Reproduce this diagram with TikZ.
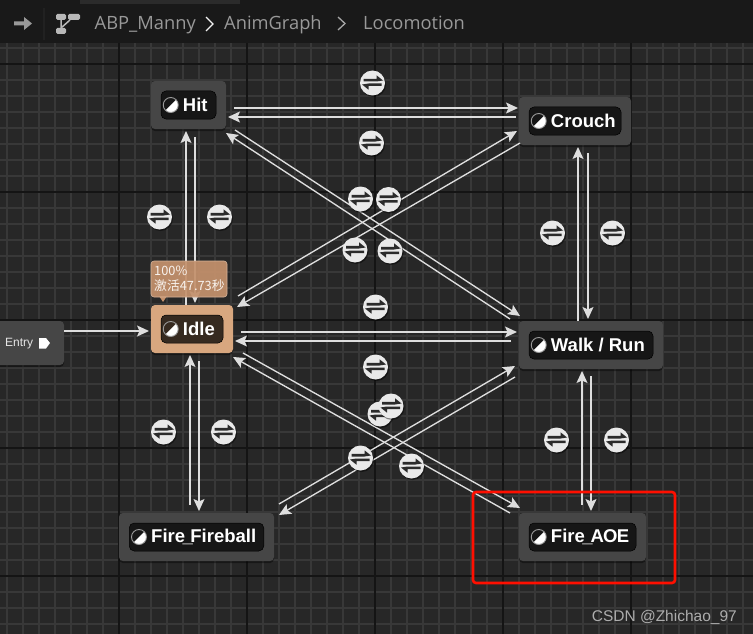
\documentclass[tikz,border=0pt]{standalone}
\usepackage{fontspec}
\setmainfont{Liberation Sans}
\newfontfamily\uifont{Open Sans}
\newfontfamily\cjkui{Noto Sans CJK SC}
\usetikzlibrary{arrows.meta,shadows,calc}
\definecolor{bgc}{HTML}{272727}
\definecolor{minorc}{HTML}{383838}
\definecolor{majorc}{HTML}{141414}
\definecolor{boxc}{HTML}{464646}
\definecolor{pillc}{HTML}{161616}
\definecolor{idlec}{HTML}{D8A77F}
\definecolor{tipc}{HTML}{C4916C}
\definecolor{flowc}{HTML}{DEDEDE}
\definecolor{hdrc}{HTML}{191919}
\definecolor{xferc}{HTML}{E9E9E9}
\definecolor{glyphc}{HTML}{2B2B2B}
\tikzset{
  statebox/.style={rounded corners=4pt,fill=boxc,draw=none,inner sep=0pt,minimum height=48pt,
    drop shadow={shadow xshift=0pt,shadow yshift=-2pt,opacity=.4,fill=black}},
  idlebox/.style={statebox,fill=idlec},
  pill/.style={rounded corners=5pt,fill=pillc,draw=black,line width=.5pt,inner sep=0pt,minimum height=28pt},
  idlepill/.style={pill,fill=black!75!idlec},
  statetext/.style={text=white,font=\fontsize{18.5}{20}\selectfont\bfseries,inner sep=0pt,anchor=west},
  halficon/.style={circle,minimum size=15pt,inner sep=0pt,draw=white!60!black,line width=.9pt,
    path picture={\fill[white] (path picture bounding box.north east) -- (path picture bounding box.south east) -- (path picture bounding box.south west) -- cycle;}},
  flow/.style={draw=flowc,line width=1.35pt,-{Stealth[length=12pt,width=11pt,inset=2.5pt]}},
  xfer/.style={circle,minimum size=25pt,inner sep=0pt,fill=xferc,draw=none,
    drop shadow={shadow xshift=1pt,shadow yshift=-1.5pt,opacity=.45,fill=black},
    path picture={
      \fill[glyphc] ([shift={(-9,-4.2)}]path picture bounding box.center) -- ++(13,0) -- ++(0,-3.5) -- ++(6.5,5.2) -- ++(-6.5,1) -- ++(-13,0) -- cycle;
      \fill[glyphc] ([shift={(9,3)}]path picture bounding box.center) -- ++(-13,0) -- ++(0,3.7) -- ++(-6.5,-5.2) -- ++(6.5,-1) -- ++(13,0) -- cycle;
    }},
  hdrtext/.style={text=white!60!black,font=\uifont\fontsize{18.3}{20}\selectfont,inner sep=0pt,anchor=base west},
  chev/.style={draw=#1,line width=1.3pt},
  tipbox/.style={rounded corners=3pt,fill=tipc,fill opacity=.93,draw=tipc!70!white,line width=.6pt,inner sep=0pt,minimum width=76pt,minimum height=36pt},
  tiptext/.style={text=white!88!tipc,font=\cjkui\fontsize{12.8}{15}\selectfont,inner sep=0pt,align=left,anchor=west},
  redbox/.style={draw=red!88!orange,line width=2.6pt,rounded corners=3pt,inner sep=0pt,minimum width=202pt,minimum height=91pt},
  wmark/.style={text=white!68!black,font=\fontsize{15.5}{17}\selectfont,inner sep=0pt,anchor=east},
}
% name, cx, cy, box width, box style, pill style, pill width, label
\newcommand{\statenode}[8]{%
  \node[#5,minimum width=#4pt] (#1) at (#2,#3) {};
  \node[#6,minimum width=#7pt] (#1pill) at (#1.center) {};
  \node[halficon] (#1icon) at ([xshift=10pt]#1pill.west) {};
  \node[statetext] (#1label) at ([xshift=22pt]#1pill.west) {#8};
}
\newcommand{\conn}[4]{\draw[flow] ([shift={(#2)}]#1.center) -- ([shift={(#4)}]#3.center);}
\newcommand{\xf}[3]{\node[xfer] (#1) at (#2,#3) {};}
\begin{document}
\begin{tikzpicture}[x=1pt,y=-1pt]
\useasboundingbox (0,0) rectangle (753,634);
\clip (0,0) rectangle (753,634);
\fill[bgc] (0,0) rectangle (753,634);
% grid
\foreach \gx in {7,23,...,753} \draw[minorc,line width=1.8pt] (\gx,0) -- (\gx,634);
\foreach \gy in {0,16,...,640} \draw[minorc,line width=1.8pt] (0,\gy) -- (753,\gy);
\foreach \gx in {119,247,375,503,631} \draw[majorc,line width=1.4pt] (\gx,0) -- (\gx,634);
\foreach \gy in {64,192,320,448,576} \draw[majorc,line width=1.4pt] (0,\gy) -- (753,\gy);
% header
\fill[hdrc] (0,0) rectangle (753,43);
\fill[white!17!black] (80,0) rectangle (240,4);
\fill[white!60!black] (14,21.5) -- (24,21.5) -- (24,17) -- (32,23.5) -- (24,30) -- (24,25.5) -- (14,25.5) -- cycle;
\draw[white!13!black,line width=1.5pt] (44,8) -- (44,40);
\fill[white!72!black,rounded corners=1.5pt] (56,14) rectangle (66,20) (68,14) rectangle (80,20) (56,28) rectangle (66,34);
\draw[white!72!black,line width=1.5pt] (61,20) -- (61,28) (61,28) -- (70,20);
\node[hdrtext] (crumbA) at (94.5,29.5) {ABP\_Manny};
\node[hdrtext] (crumbB) at (224,29.5) {AnimGraph};
\node[hdrtext] (crumbC) at (363,29.5) {Locomotion};
\draw[chev=white!95!black] (206,17) -- (213,24) -- (206,31);
\draw[chev=white!65!black] (338,17) -- (345,23.5) -- (338,30);
% states
\statenode{hit}{188.5}{105}{75}{statebox}{pill}{55}{Hit}
\statenode{crouch}{575}{121}{112}{statebox}{pill}{92}{Crouch}
\statenode{idle}{192}{329}{82}{idlebox}{idlepill}{62}{Idle}
\statenode{walk}{591}{345}{144}{statebox}{pill}{124}{Walk / Run}
\statenode{fire}{196.5}{537}{155}{statebox}{pill}{134.5}{Fire\kern-2.5pt\_\kern-2.5pt Fireball}
\statenode{aoe}{582.5}{537}{127}{statebox}{pill}{107}{Fire\kern-2.5pt\_\kern-2pt A\kern-.8pt O\kern-.8pt E}
\node[statebox,minimum width=74pt,minimum height=44pt] (entry) at (27,343) {};
\node[text=white!90!black,font=\fontsize{12}{14}\selectfont,inner sep=0pt,anchor=west] (entrylabel) at (5,344) {Entry};
\fill[white] (39,338) -- (46,338) -- (50,343) -- (46,348.5) -- (39,348.5) -- cycle;
% connectors
\conn{hit}{45.5,3}{crouch}{-57,-13}
\conn{crouch}{-59,-4}{hit}{39.5,12}
\conn{idle}{-6,-24}{hit}{-2.5,26}
\conn{hit}{6.5,32}{idle}{3,-26}
\conn{entry}{37,-12}{idle}{-43,2}
\conn{idle}{49,3}{walk}{-74,-13}
\conn{walk}{-80,-4}{idle}{43,12}
\conn{idle}{46,-33}{crouch}{-58,10}
\conn{crouch}{-55,22}{idle}{45,-22}
\conn{hit}{46.5,25}{walk}{-71,-29}
\conn{walk}{-81,-26}{hit}{37.5,28}
\conn{walk}{-13,-24}{crouch}{3,26}
\conn{crouch}{13,32}{walk}{-3,-26}
\conn{aoe}{-0.5,-32}{walk}{-9,26}
\conn{walk}{0,31}{aoe}{8.5,-26}
\conn{fire}{-6.5,-32}{idle}{-2,26}
\conn{idle}{7,32}{fire}{2.5,-26}
\conn{idle}{51,24}{aoe}{-62.5,-29}
\conn{aoe}{-72.5,-24}{idle}{41,28}
\conn{walk}{-76,32}{fire}{82.5,-22}
\conn{fire}{82.5,-33}{walk}{-76,21}
% transitions
\xf{t1}{372.5}{83}\xf{t2}{371.5}{143}\xf{t3}{360.5}{199}\xf{t4}{388.5}{199.5}
\xf{t5}{355}{250}\xf{t6}{390}{251}\xf{t7}{159.5}{217}\xf{t8}{219.5}{217}
\xf{t9}{552.5}{233}\xf{t10}{612.5}{233}\xf{t11}{375.5}{307}\xf{t12}{375.5}{367}
\xf{t13}{380}{414}\xf{t14}{391}{406}\xf{t15}{360.5}{458}\xf{t16}{411.5}{466}
\xf{t17}{163.5}{432}\xf{t18}{223.5}{432}\xf{t19}{556.5}{440}\xf{t20}{616.5}{440}
% tooltip
\fill[tipc] (159,296) -- (167,296) -- (163,302) -- cycle;
\node[tipbox] (tip) at (189,279) {};
\node[tiptext] (tiptxt) at (154,279) {100\%\\激活47.73秒};
% highlight
\node[redbox] (red) at (574,537.5) {};
\node[wmark] (wm) at (737,617) {CSDN @Zhichao\_97};
\end{tikzpicture}
\end{document}
